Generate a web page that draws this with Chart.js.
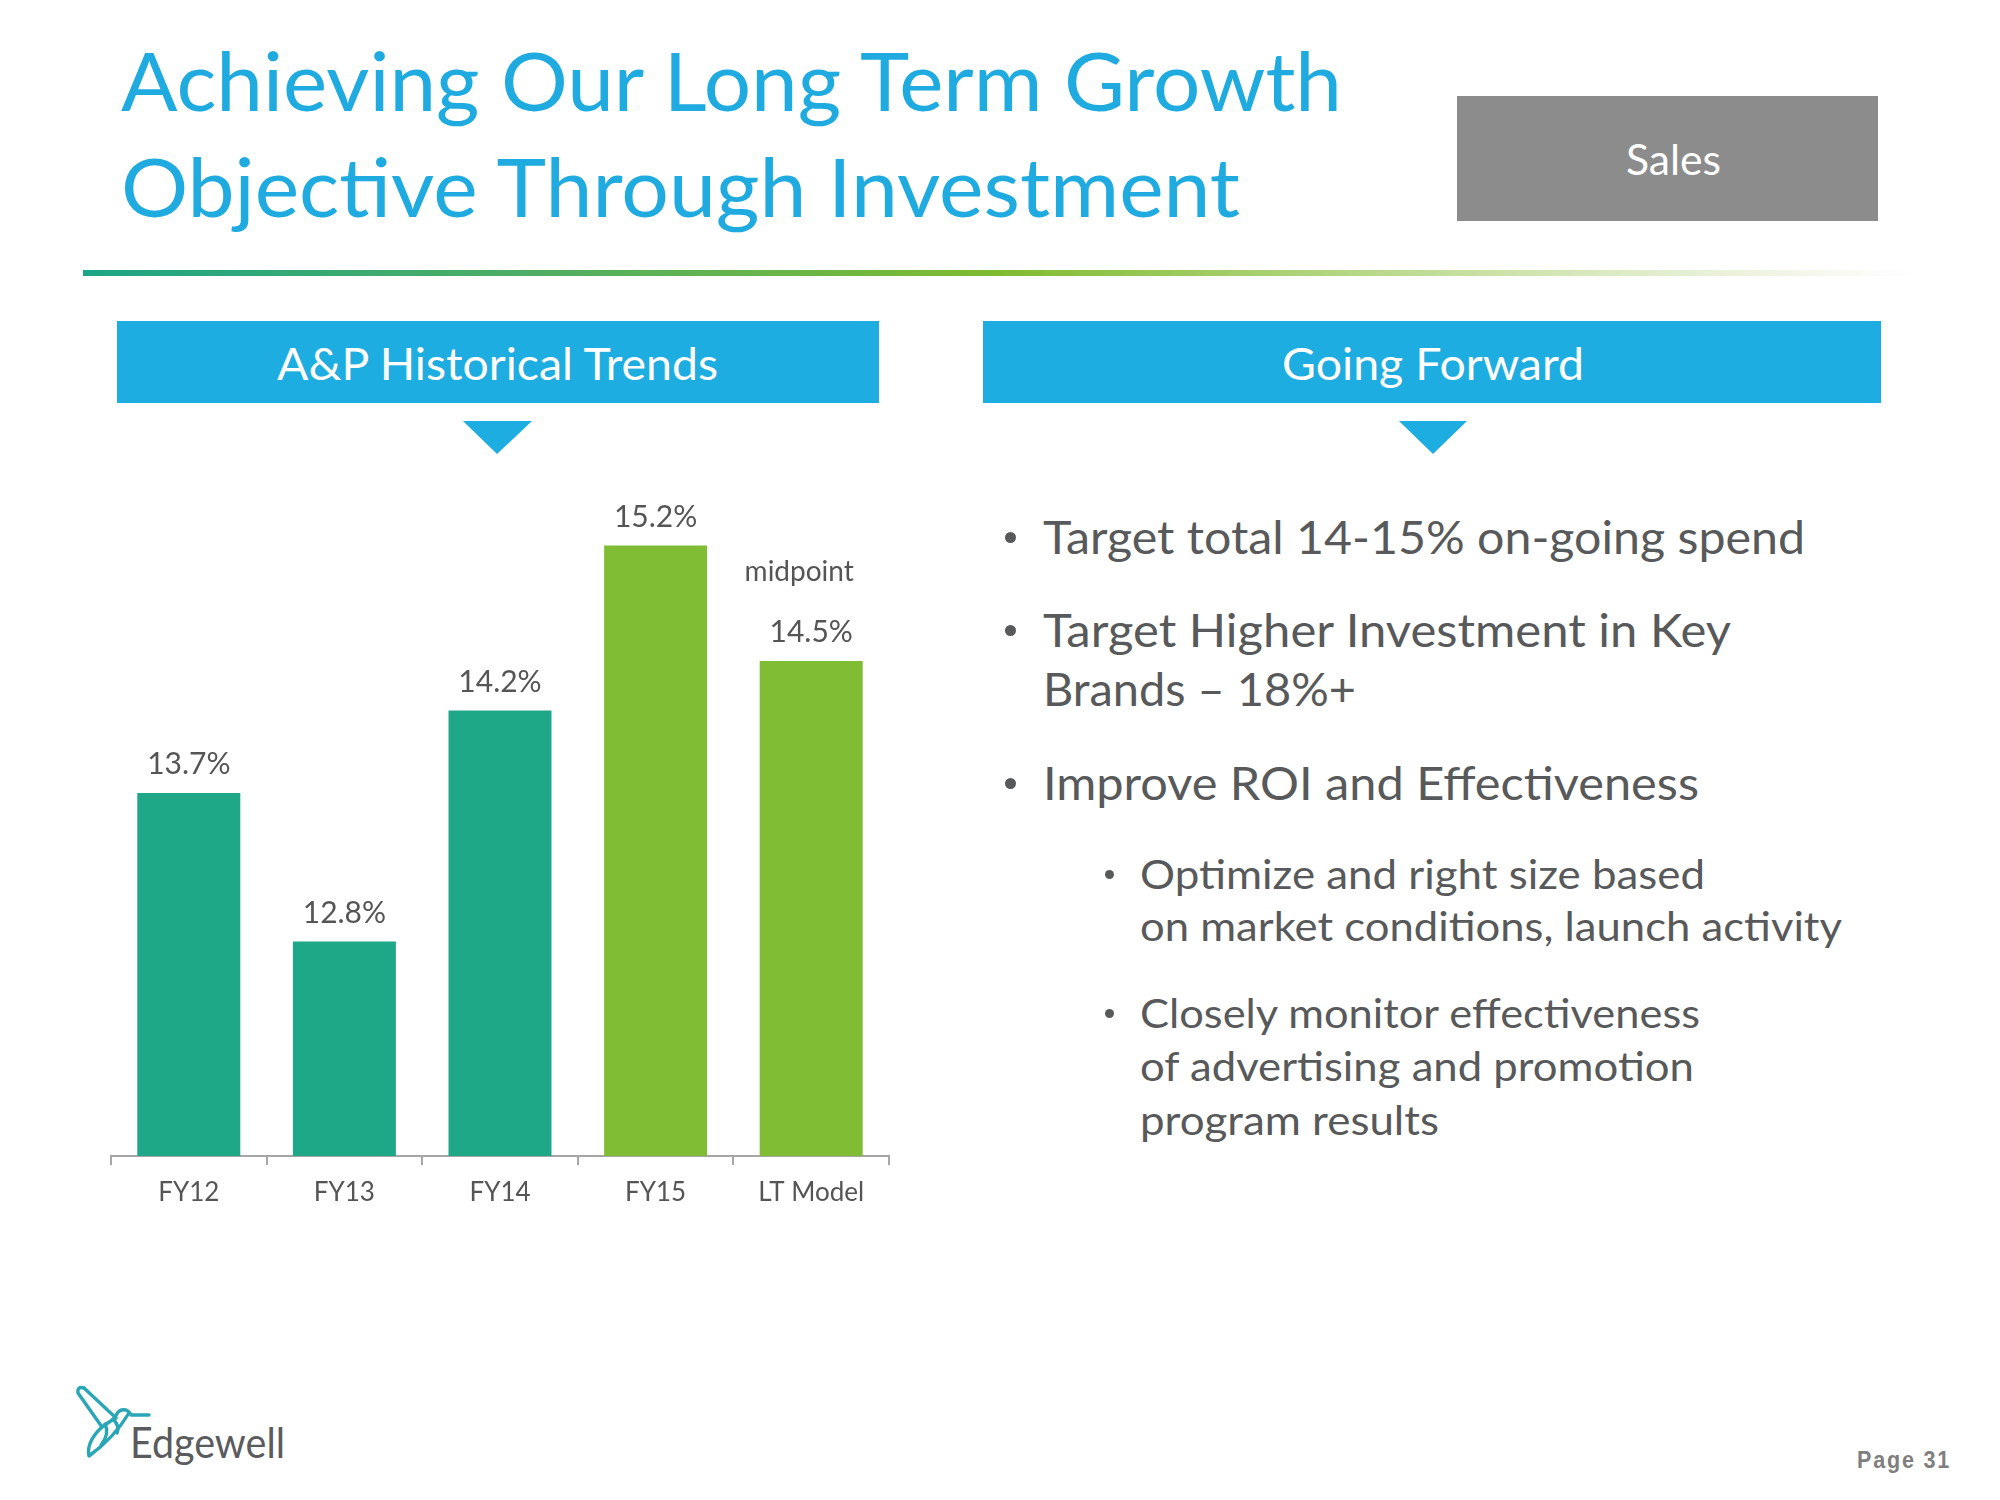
<!DOCTYPE html>
<html>
<head>
<meta charset="utf-8">
<script src="https://cdn.jsdelivr.net/npm/chart.js@4.4.1/dist/chart.umd.min.js"></script>
<style>
  html, body { margin: 0; padding: 0; background: #ffffff; }
  #page { position: relative; width: 2000px; height: 1500px; overflow: hidden; background: #fff; }
  .t { position: absolute; white-space: nowrap; line-height: 1; transform-origin: 0 0; font-family: Lato, "Open Sans", sans-serif; }
  .box { position: absolute; }
  .dot { position: absolute; border-radius: 50%; background: #58595b; }
  #chartWrap { position: absolute; left: 80px; top: 440px; width: 840px; height: 800px; }
</style>
</head>
<body>
<div id="page">
  <div class="box" style="left:1457px;top:96px;width:421px;height:125px;background:#8c8c8c;"></div>
  <div class="box" style="left:117px;top:321px;width:762px;height:82px;background:#1eade1;"></div>
  <div class="box" style="left:983px;top:321px;width:898px;height:82px;background:#1eade1;"></div>
  <svg class="box" style="left:0;top:0" width="2000" height="1500" viewBox="0 0 2000 1500">
    <defs>
      <linearGradient id="rule" x1="0" y1="0" x2="1" y2="0">
        <stop offset="0" stop-color="#1ca585"/>
        <stop offset="0.25" stop-color="#4fae63"/>
        <stop offset="0.5" stop-color="#80bb2f"/>
        <stop offset="0.68" stop-color="#b2d57f"/>
        <stop offset="0.85" stop-color="#dfecc9"/>
        <stop offset="1" stop-color="#ffffff"/>
      </linearGradient>
    </defs>
    <rect x="83" y="270" width="1830" height="6" fill="url(#rule)"/>
    <polygon points="463,421 532,421 497,454" fill="#1eade1"/>
    <polygon points="1399,421 1467,421 1433,454" fill="#1eade1"/>
    <g transform="translate(60,1360)" fill="none" stroke="#2aa6b6" stroke-width="3.4" stroke-linejoin="round" stroke-linecap="round">
      <path d="M 24 28 Q 17 26 18 33 L 42 67"/>
      <path d="M 24 28 L 56 58"/>
      <path d="M 55 58 Q 58 48 66 50 Q 70 52 71 55 L 89 55"/>
      <path d="M 69 53 Q 54 78 29 96 Q 26 82 42 67 L 55 58"/>
      <path d="M 45 64 Q 50 74 41 85"/>
      <path d="M 53 59 Q 60 66 57 73"/>
    </g>
  </svg>
  <div id="chartWrap"><canvas id="c" width="840" height="800"></canvas></div>
</div>
<script>
// ---- chart data ----
const categories = ['FY12', 'FY13', 'FY14', 'FY15', 'LT Model'];
const apSpendPct = [13.7, 12.8, 14.2, 15.2, 14.5];
const barNotes = ['', '', '', '', 'midpoint'];
const yMin = 11.5;
const yMax = 15.5;

// ---- styles (not data) ----
const barColors = ['#1fa888', '#1fa888', '#1fa888', '#80bd35', '#80bd35'];
const labelGray = '#555555';

const valueLabelPlugin = {
  id: 'valueLabels',
  afterDatasetsDraw(chart) {
    const ctx = chart.ctx;
    const meta = chart.getDatasetMeta(0);
    const vals = chart.data.datasets[0].data;
    ctx.save();
    ctx.fillStyle = labelGray;
    ctx.textAlign = 'center';
    ctx.textBaseline = 'alphabetic';
    meta.data.forEach((bar, i) => {
      ctx.font = '30px Lato';
      ctx.fillText(vals[i].toFixed(1) + '%', bar.x, bar.y - 19);
      if (barNotes[i]) {
        ctx.font = '28px Lato';
        ctx.fillText(barNotes[i], bar.x - 12, bar.y - 80);
      }
    });
    ctx.restore();
  }
};

new Chart(document.getElementById('c'), {
  type: 'bar',
  data: {
    labels: categories,
    datasets: [{
      data: apSpendPct,
      backgroundColor: barColors,
      borderWidth: 0,
      categoryPercentage: 1,
      barPercentage: 0.662
    }]
  },
  options: {
    responsive: false,
    animation: false,
    devicePixelRatio: 1,
    layout: { padding: { left: 31, right: 31, top: 56, bottom: 24 } },
    plugins: { legend: { display: false }, tooltip: { enabled: false } },
    scales: {
      y: { display: false, min: yMin, max: yMax },
      x: {
        afterFit: (s) => { s.height = 60; },
        grid: { display: true, drawOnChartArea: false, drawTicks: true, tickLength: 9, color: '#a6a6a6', lineWidth: 2, offset: true },
        border: { display: true, color: '#a6a6a6', width: 2 },
        ticks: { color: labelGray, font: { family: 'Lato', size: 26 }, padding: 12, maxRotation: 0 }
      }
    }
  },
  plugins: [valueLabelPlugin]
});

// ---- slide text ----
const textItems = [
  { s: 'Achieving Our Long Term Growth', x: 121, b: 111, size: 82, w: 1221, c: '#1fabe0' },
  { s: 'Objective Through Investment', x: 121, b: 217, size: 82, w: 1119, c: '#1fabe0' },
  { s: 'Sales', x: 1626, b: 175, size: 42, w: 95, c: '#ffffff' },
  { s: 'A&P Historical Trends', x: 277, b: 380, size: 44, w: 441, c: '#ffffff' },
  { s: 'Going Forward', x: 1282, b: 380, size: 44, w: 302, c: '#ffffff' },
  { s: 'Target total 14-15% on-going spend', x: 1043, b: 555, size: 46, w: 762, c: '#58595b' },
  { s: 'Target Higher Investment in Key', x: 1043, b: 648, size: 46, w: 688, c: '#58595b' },
  { s: 'Brands \u2013 18%+', x: 1043, b: 707, size: 46, w: 313, c: '#58595b' },
  { s: 'Improve ROI and Effectiveness', x: 1043, b: 801, size: 46, w: 656, c: '#58595b' },
  { s: 'Optimize and right size based', x: 1140, b: 889, size: 41, w: 565, c: '#58595b' },
  { s: 'on market conditions, launch activity', x: 1140, b: 941, size: 41, w: 702, c: '#58595b' },
  { s: 'Closely monitor effectiveness', x: 1140, b: 1028, size: 41, w: 560, c: '#58595b' },
  { s: 'of advertising and promotion', x: 1140, b: 1081, size: 41, w: 554, c: '#58595b' },
  { s: 'program results', x: 1140, b: 1135, size: 41, w: 299, c: '#58595b' },
  { s: 'Edgewell', x: 130, b: 1458, size: 42, w: 155, c: '#5a5b5d' },
  { s: 'Page 31', x: 1857, b: 1468, size: 24, w: 94, c: '#7f7f7f', font: '"Liberation Sans", Arial, sans-serif', weight: 700, asc: 0.8465, ls: '2px' }
];
const dots = [
  { x: 1010, y: 537, d: 11 }, { x: 1010, y: 630, d: 11 }, { x: 1010, y: 783, d: 11 },
  { x: 1109, y: 874, d: 9 }, { x: 1109, y: 1013, d: 9 }
];
const page = document.getElementById('page');
dots.forEach(p => {
  const el = document.createElement('div');
  el.className = 'dot';
  el.style.left = (p.x - p.d / 2) + 'px';
  el.style.top = (p.y - p.d / 2) + 'px';
  el.style.width = p.d + 'px';
  el.style.height = p.d + 'px';
  page.appendChild(el);
});
const els = textItems.map(it => {
  const el = document.createElement('div');
  el.className = 't';
  el.textContent = it.s;
  el.style.fontSize = it.size + 'px';
  el.style.color = it.c;
  if (it.font) el.style.fontFamily = it.font;
  if (it.weight) el.style.fontWeight = it.weight;
  if (it.ls) el.style.letterSpacing = it.ls;
  const asc = it.asc || 0.887;
  el.style.left = it.x + 'px';
  el.style.top = (it.b - asc * it.size) + 'px';
  page.appendChild(el);
  return [el, it];
});
function fit() {
  els.forEach(([el, it]) => {
    el.style.transform = '';
    const w = el.getBoundingClientRect().width;
    if (w > 0) el.style.transform = 'scaleX(' + (it.w / w) + ')';
  });
}
fit();
if (document.fonts && document.fonts.ready) document.fonts.ready.then(fit);
</script>
</body>
</html>
